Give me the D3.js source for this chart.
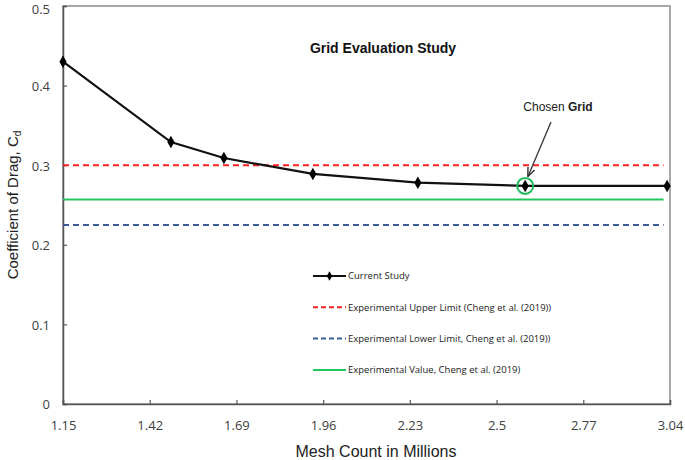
<!DOCTYPE html>
<html><head><meta charset="utf-8">
<script src="https://cdn.jsdelivr.net/npm/d3@7"></script>
<style>body{margin:0;background:#fff}svg{display:block}</style>
</head><body><div id="chart"></div>
<script>
const meshCounts = [1.15, 1.486, 1.651, 1.928, 2.255, 2.589, 3.031];
const dragCoeff = [0.43, 0.329, 0.309, 0.289, 0.278, 0.274, 0.274];
const xTicks = [1.15, 1.42, 1.69, 1.96, 2.23, 2.5, 2.77, 3.04];
const yTicks = [0, 0.1, 0.2, 0.3, 0.4, 0.5];
const upperLimit = 0.3;
const lowerLimit = 0.225;
const experimentalValue = 0.257;
const refLineExtent = [1.15, 3.02];
const chosenIndex = 5;
const legendLabels = ["Current Study", "Experimental Upper Limit (Cheng et al. (2019))", "Experimental Lower Limit, Cheng et al. (2019))", "Experimental Value, Cheng et al. (2019)"];

const W = 685, H = 460;
const m = {l: 63, r: 15, t: 6, b: 56};
const svg = d3.select("#chart").append("svg").attr("width", W).attr("height", H);
const x = d3.scaleLinear().domain([1.15, 3.04]).range([m.l, W - m.r]);
const y = d3.scaleLinear().domain([0, 0.5]).range([H - m.b, m.t]);

// plot box (top/right)
svg.append("rect").attr("x", x(1.15)).attr("y", y(0.5)).attr("width", x(3.04) - x(1.15)).attr("height", y(0) - y(0.5))
  .attr("fill", "none").attr("stroke", "#8c8c8c").attr("stroke-width", 1.5);

// axes
const xa = svg.append("g").attr("transform", `translate(0,${y(0)})`)
  .call(d3.axisBottom(x).tickValues(xTicks).tickSize(-4).tickPadding(17).tickFormat(d => String(d)));
const ya = svg.append("g").attr("transform", `translate(${x(1.15)},0)`)
  .call(d3.axisLeft(y).tickValues(yTicks).tickSize(-4).tickPadding(13).tickFormat(d => String(d)));
[xa, ya].forEach(a => {
  a.select(".domain").attr("stroke", "#555").attr("stroke-width", 1.5);
  a.selectAll(".tick line").attr("stroke", "#555").attr("stroke-width", 1.2);
  a.selectAll(".tick text").attr("fill", "#404040").attr("font-family", "Open Sans, sans-serif").attr("font-size", 13);
});
ya.selectAll(".tick text").attr("dy", "0.38em");
ya.selectAll(".tick").filter(d => d === 0.5).select("text").attr("dy", "0.55em");

// reference lines
function hline(v, color, dash) {
  svg.append("line").attr("x1", x(refLineExtent[0])).attr("x2", x(refLineExtent[1]))
    .attr("y1", y(v)).attr("y2", y(v)).attr("stroke", color).attr("stroke-width", 2)
    .attr("stroke-dasharray", dash);
}
hline(upperLimit, "#ff2020", "6,4");
hline(lowerLimit, "#3c5a96", "6,4");
hline(experimentalValue, "#22c55e", null);

// current study line
const pts = meshCounts.map((d, i) => [d, dragCoeff[i]]);
svg.append("path").datum(pts)
  .attr("d", d3.line().x(d => x(d[0])).y(d => y(d[1])))
  .attr("fill", "none").attr("stroke", "#111").attr("stroke-width", 2.2);
const sym = d3.symbol().type(d3.symbolDiamond).size(45);
svg.selectAll(".pt").data(pts).join("path")
  .attr("transform", d => `translate(${x(d[0])},${y(d[1])})`)
  .attr("d", sym).attr("fill", "#000");

// chosen grid circle
svg.append("circle").attr("cx", x(meshCounts[chosenIndex])).attr("cy", y(dragCoeff[chosenIndex]))
  .attr("r", 8).attr("fill", "none").attr("stroke", "#1fb85a").attr("stroke-width", 2);

// arrow
svg.append("defs").append("marker").attr("id", "ah").attr("viewBox", "0 0 10 10")
  .attr("refX", 9).attr("refY", 5).attr("markerWidth", 7).attr("markerHeight", 7).attr("orient", "auto")
  .append("path").attr("d", "M0,1 L10,5 L0,9").attr("fill", "none").attr("stroke", "#333").attr("stroke-width", 1.5);
svg.append("line").attr("x1", 551).attr("y1", 122).attr("x2", x(meshCounts[chosenIndex]) + 3).attr("y2", y(dragCoeff[chosenIndex]) - 10)
  .attr("stroke", "#333").attr("stroke-width", 1.3).attr("marker-end", "url(#ah)");
const ct = svg.append("text").attr("x", 558).attr("y", 111).attr("text-anchor", "middle")
  .attr("font-family", "Liberation Sans, Arial, sans-serif").attr("font-size", 12).attr("fill", "#222");
ct.append("tspan").text("Chosen ");
ct.append("tspan").attr("font-weight", "bold").text("Grid");

// title
svg.append("text").attr("x", 383).attr("y", 53).attr("text-anchor", "middle")
  .attr("font-family", "Liberation Sans, Arial, sans-serif").attr("font-size", 14).attr("font-weight", "bold")
  .attr("fill", "#111").text("Grid Evaluation Study");

// axis labels
svg.append("text").attr("x", 376).attr("y", 457).attr("text-anchor", "middle")
  .attr("font-family", "Liberation Sans, Arial, sans-serif").attr("font-size", 16).attr("fill", "#222")
  .text("Mesh Count  in Millions");
const yl = svg.append("text").attr("transform", `translate(18,${(y(0) + y(0.5)) / 2}) rotate(-90)`)
  .attr("text-anchor", "middle").attr("font-family", "Liberation Sans, Arial, sans-serif")
  .attr("font-size", 15).attr("fill", "#222");
yl.append("tspan").text("Coefficient  of Drag,  C");
yl.append("tspan").attr("font-size", 10).attr("dy", 3).text("d");

// legend
const lg = svg.append("g").attr("font-family", "Open Sans, sans-serif").attr("font-size", 9.5).attr("fill", "#222");
const styles = [
  {c: "#111", d: null, mk: true},
  {c: "#ff2020", d: "5,3", mk: false},
  {c: "#3c5a96", d: "5,3", mk: false},
  {c: "#22c55e", d: null, mk: false}
];
legendLabels.forEach((t, i) => {
  const yy = 276 + i * 31.3;
  lg.append("line").attr("x1", 313).attr("x2", 346).attr("y1", yy).attr("y2", yy)
    .attr("stroke", styles[i].c).attr("stroke-width", 2).attr("stroke-dasharray", styles[i].d);
  if (styles[i].mk) lg.append("path").attr("transform", `translate(329.5,${yy})`).attr("d", d3.symbol().type(d3.symbolDiamond).size(25)).attr("fill", "#000");
  lg.append("text").attr("x", 348).attr("y", yy).attr("dy", "0.35em").text(t);
});
</script></body></html>
